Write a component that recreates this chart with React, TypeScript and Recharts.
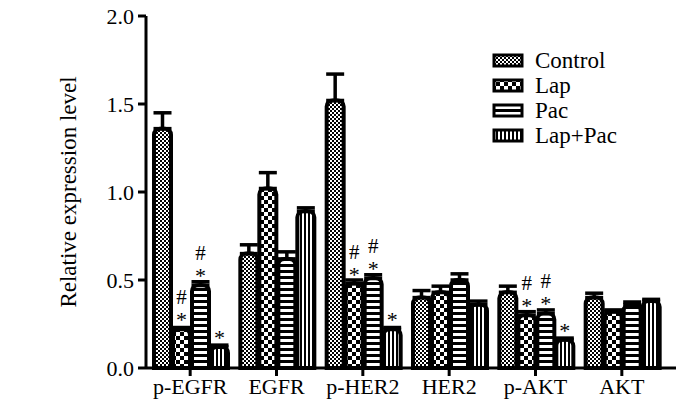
import React from 'react';
import { BarChart, Bar, XAxis, YAxis, ErrorBar, LabelList } from 'recharts';

const categories = ['p-EGFR', 'EGFR', 'p-HER2', 'HER2', 'p-AKT', 'AKT'];
const control = [1.36, 0.65, 1.52, 0.4, 0.43, 0.4];
const controlErr = [0.09, 0.05, 0.15, 0.04, 0.035, 0.025];
const lap = [0.22, 1.02, 0.48, 0.43, 0.3, 0.32];
const lapErr = [0.01, 0.09, 0.02, 0.035, 0.02, 0.01];
const pac = [0.47, 0.62, 0.51, 0.5, 0.31, 0.36];
const pacErr = [0.02, 0.04, 0.02, 0.035, 0.02, 0.015];
const lapPac = [0.12, 0.89, 0.22, 0.36, 0.16, 0.38];
const lapPacErr = [0.01, 0.02, 0.01, 0.02, 0.01, 0.01];
const lapMarks = ['#*', '', '#*', '', '#*', ''];
const pacMarks = ['#*', '', '#*', '', '#*', ''];
const lapPacMarks = ['*', '', '*', '', '*', ''];
const yTicks = [0, 0.5, 1, 1.5, 2];

const data = categories.map((c, i) => ({
  name: c,
  Control: control[i],
  ControlErr: [0, controlErr[i]],
  Lap: lap[i],
  LapErr: [0, lapErr[i]],
  Pac: pac[i],
  PacErr: [0, pacErr[i]],
  'Lap+Pac': lapPac[i],
  LapPacErr: [0, lapPacErr[i]],
}));

const FONT = '"Liberation Serif", "Times New Roman", serif';

const series = [
  { key: 'Control', err: 'ControlErr', pat: 'pCtrl', marks: null },
  { key: 'Lap', err: 'LapErr', pat: 'pLap', marks: lapMarks },
  { key: 'Pac', err: 'PacErr', pat: 'pPac', marks: pacMarks },
  { key: 'Lap+Pac', err: 'LapPacErr', pat: 'pLapPac', marks: lapPacMarks },
];

function Patterns({ prefix = '' }: { prefix?: string }) {
  return (
    <defs>
      <pattern id={prefix + 'pCtrl'} width="4" height="4" patternUnits="userSpaceOnUse">
        <rect width="4" height="4" fill="#fff" />
        <rect x="0" y="0" width="2" height="2" fill="#000" />
        <rect x="2" y="2" width="2" height="2" fill="#000" />
      </pattern>
      <pattern id={prefix + 'pLap'} width="8" height="8" patternUnits="userSpaceOnUse">
        <rect width="8" height="8" fill="#fff" />
        <rect x="0" y="0" width="4" height="4" fill="#000" />
        <rect x="4" y="4" width="4" height="4" fill="#000" />
      </pattern>
      <pattern id={prefix + 'pPac'} width="6" height="6" patternUnits="userSpaceOnUse">
        <rect width="6" height="6" fill="#fff" />
        <rect x="0" y="0" width="6" height="3" fill="#000" />
      </pattern>
      <pattern id={prefix + 'pLapPac'} width="4" height="4" patternUnits="userSpaceOnUse">
        <rect width="4" height="4" fill="#fff" />
        <rect x="0" y="0" width="2" height="4" fill="#000" />
      </pattern>
    </defs>
  );
}

const makeMarks = (marks: string[]) => (props: any) => {
  const { x, y, width, index } = props;
  const m = marks[index];
  if (!m) return null;
  const cx = x + width / 2;
  return (
    <g>
      {m.includes('*') && (
        <text x={cx} y={y - 2} textAnchor="middle" fontFamily={FONT} fontSize={22} fill="#000">*</text>
      )}
      {m.includes('#') && (
        <text x={cx} y={y - 25} textAnchor="middle" fontFamily={FONT} fontSize={21} fill="#000">#</text>
      )}
    </g>
  );
};

function LegendBox() {
  return (
    <div
      style={{
        position: 'absolute',
        left: 492,
        top: 48,
        fontFamily: FONT,
        fontSize: 23,
        lineHeight: '25px',
        color: '#000',
      }}
    >
      <svg width="0" height="0" style={{ position: 'absolute' }}>
        <Patterns prefix="lg" />
      </svg>
      {series.map((s) => (
        <div key={s.key} style={{ display: 'flex', alignItems: 'center', height: 25 }}>
          <svg width="34" height="16" style={{ marginRight: 9 }}>
            <rect x="2" y="2" width="28" height="11" fill={'url(#lg' + s.pat + ')'} stroke="#000" strokeWidth={3} />
          </svg>
          <span>{s.key}</span>
        </div>
      ))}
    </div>
  );
}

export default function App() {
  return (
    <div style={{ position: 'absolute', left: 0, top: 0, width: 700, height: 420, background: '#fff' }}>
      <BarChart
        width={700}
        height={420}
        data={data}
        margin={{ top: 16, right: 24, left: 0, bottom: 0 }}
        barCategoryGap={7}
        barGap={2}
      >
        <Patterns />
        <XAxis
          dataKey="name"
          height={52}
          padding={{ left: 1, right: 11 }}
          axisLine={{ stroke: '#000', strokeWidth: 3 }}
          tickLine={{ stroke: '#000', strokeWidth: 3 }}
          tickSize={8}
          tick={{ fill: '#000', fontSize: 22, fontFamily: FONT }}
        />
        <YAxis
          width={146}
          domain={[0, 2]}
          ticks={yTicks}
          tickFormatter={(v: number) => v.toFixed(1)}
          axisLine={{ stroke: '#000', strokeWidth: 3 }}
          tickLine={{ stroke: '#000', strokeWidth: 3 }}
          tickSize={8}
          tickMargin={4}
          tick={{ fill: '#000', fontSize: 22, fontFamily: FONT }}
          label={{
            value: 'Relative expression level',
            angle: -90,
            position: 'center',
            dx: -5,
            style: { fill: '#000', fontSize: 23, fontFamily: FONT, textAnchor: 'middle' },
          }}
        />
        {series.map((s) => (
          <Bar
            key={s.key}
            dataKey={s.key}
            fill={'url(#' + s.pat + ')'}
            stroke="#000"
            strokeWidth={4}
            radius={[6, 6, 0, 0]}
            isAnimationActive={false}
          >
            <ErrorBar dataKey={s.err} direction="y" width={9} stroke="#000" strokeWidth={3.5} />
            {s.marks && <LabelList dataKey={s.key} content={makeMarks(s.marks)} />}
          </Bar>
        ))}
      </BarChart>
      <LegendBox />
    </div>
  );
}
